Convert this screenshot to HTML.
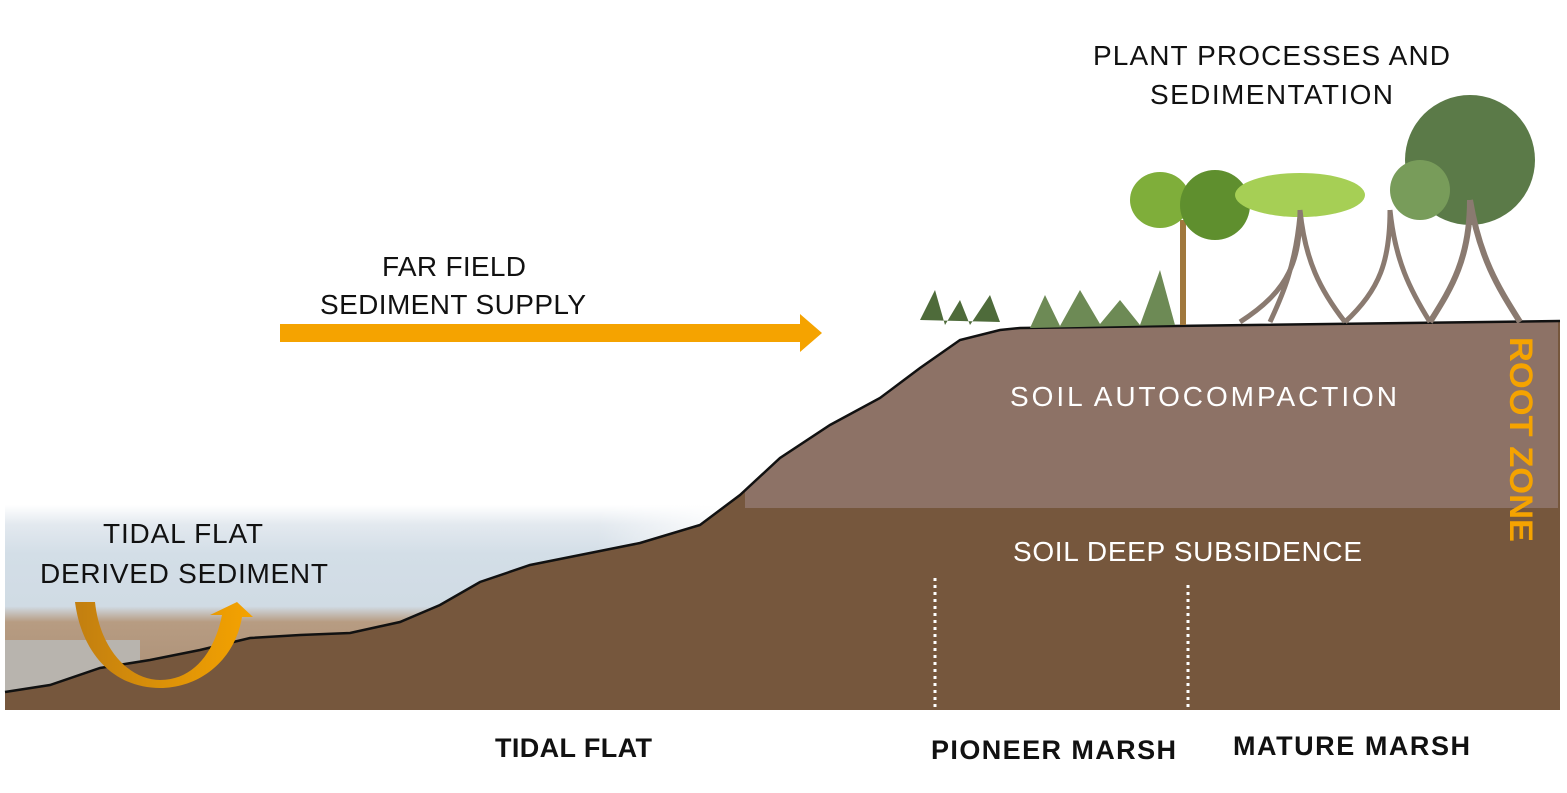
<!DOCTYPE html>
<html><head><meta charset="utf-8"><style>
body{margin:0;background:#fff;width:1567px;height:788px;overflow:hidden;font-family:"Liberation Sans",sans-serif}
</style></head><body>
<svg width="1567" height="788" viewBox="0 0 1567 788" xmlns="http://www.w3.org/2000/svg">
<defs>
<linearGradient id="water" x1="0" y1="0" x2="0" y2="1">
<stop offset="0" stop-color="#fff"/>
<stop offset="0.1" stop-color="#e3e9ef"/>
<stop offset="0.25" stop-color="#d3dee7"/>
<stop offset="0.52" stop-color="#d0dbe4"/>
<stop offset="0.6" stop-color="#b79c82"/>
<stop offset="1" stop-color="#a98d74"/>
</linearGradient>
<linearGradient id="wfade" x1="0" y1="0" x2="1" y2="0">
<stop offset="0" stop-color="#fff" stop-opacity="0"/>
<stop offset="0.8" stop-color="#fff" stop-opacity="0"/>
<stop offset="1" stop-color="#fff" stop-opacity="1"/>
</linearGradient>
<linearGradient id="arr" x1="0" y1="0" x2="1" y2="0">
<stop offset="0" stop-color="#c27f10"/><stop offset="1" stop-color="#f5a300"/>
</linearGradient>
</defs>
<rect x="5" y="505" width="740" height="195" fill="url(#water)"/>
<rect x="5" y="505" width="740" height="195" fill="url(#wfade)"/>
<!-- gravel -->
<path d="M5,640 L140,640 L140,700 L5,700 Z" fill="#b8b4ae"/>
<!-- ground -->
<path d="M5,692 L50,685 L100,668 L150,660 L200,650 L250,638 L300,635 L350,633 L400,622 L440,605 L480,582 L530,565 L580,555 L640,543 L700,525 L740,495 L780,458 L830,425 L880,398 L920,368 L960,340 L1000,330 L1020,328 L1560,321 L1560,710 L5,710 Z" fill="#76573d"/>
<!-- upper soil -->
<path d="M745,508 L745,490 L780,458 L830,425 L880,398 L920,368 L960,340 L1000,330 L1020,328 L1558,322 L1558,508 Z" fill="#8d7266"/>
<path d="M5,692 L50,685 L100,668 L150,660 L200,650 L250,638 L300,635 L350,633 L400,622 L440,605 L480,582 L530,565 L580,555 L640,543 L700,525 L740,495 L780,458 L830,425 L880,398 L920,368 L960,340 L1000,330 L1020,328 L1560,321" fill="none" stroke="#111" stroke-width="2.5"/>
<!-- dotted lines -->
<line x1="935" y1="578" x2="935" y2="710" stroke="#fff" stroke-width="3" stroke-dasharray="3,4"/>
<line x1="1188" y1="585" x2="1188" y2="710" stroke="#fff" stroke-width="3" stroke-dasharray="3,4"/>
<!-- far field arrow -->
<rect x="280" y="324" width="522" height="18" fill="#f5a300"/>
<polygon points="800,314 822,333 800,352" fill="#f5a300"/>
<!-- curved arrow -->
<path d="M75,602 L95,602 C100,650 130,680 160,680 C195,680 215,650 222,615 L210,615 L237,602 L253,617 L242,617 C235,660 200,688 160,688 C115,688 82,655 75,602 Z" fill="url(#arr)"/>
<!-- vegetation -->
<g>
<path d="M920,320 L935,290 L945,325 L960,300 L970,325 L990,295 L1000,322 Z" fill="#4e6b3a"/>
<path d="M1030,328 L1045,295 L1060,326 L1080,290 L1100,324 L1120,300 L1140,325 L1160,270 L1175,325 Z" fill="#6d8a55"/>
<rect x="1180" y="220" width="6" height="105" fill="#a0783d"/>
<ellipse cx="1160" cy="200" rx="30" ry="28" fill="#7fae3a"/>
<ellipse cx="1215" cy="205" rx="35" ry="35" fill="#5f8f2e"/>
<ellipse cx="1300" cy="195" rx="65" ry="22" fill="#a6cf55"/>
<path d="M1300,210 C1300,260 1290,290 1240,322 M1300,210 C1305,260 1320,290 1345,322 M1300,215 C1295,270 1280,300 1270,322" stroke="#8a7a70" stroke-width="5" fill="none"/>
<path d="M1390,210 C1390,260 1380,290 1345,322 M1390,210 C1395,260 1410,290 1430,322" stroke="#8a7a70" stroke-width="5" fill="none"/>
<ellipse cx="1470" cy="160" rx="65" ry="65" fill="#5b7a48"/>
<ellipse cx="1420" cy="190" rx="30" ry="30" fill="#789c5a"/>
<path d="M1470,200 C1470,260 1450,290 1430,322 M1470,200 C1480,260 1500,290 1520,322" stroke="#8a7a70" stroke-width="6" fill="none"/>
</g>
<!-- labels -->
<g font-family="Liberation Sans, sans-serif" fill="#111" font-size="28" lengthAdjust="spacingAndGlyphs">
<text x="1093" y="65" textLength="357">PLANT PROCESSES AND</text>
<text x="1150" y="104" textLength="243">SEDIMENTATION</text>
<text x="382" y="276" textLength="144">FAR FIELD</text>
<text x="320" y="314" textLength="266">SEDIMENT SUPPLY</text>
<text x="103" y="543" textLength="160">TIDAL FLAT</text>
<text x="40" y="583" textLength="288">DERIVED SEDIMENT</text>
</g>
<g font-family="Liberation Sans, sans-serif" fill="#fff" font-size="28">
<text x="1010" y="406" textLength="387">SOIL AUTOCOMPACTION</text>
<text x="1013" y="561" textLength="349">SOIL DEEP SUBSIDENCE</text>
</g>
<text transform="translate(1510,337) rotate(90)" font-family="Liberation Sans, sans-serif" font-weight="bold" font-size="32" fill="#f5a300" textLength="205" lengthAdjust="spacingAndGlyphs">ROOT ZONE</text>
<g font-family="Liberation Sans, sans-serif" font-weight="bold" fill="#111" font-size="27">
<text x="495" y="757" textLength="157">TIDAL FLAT</text>
<text x="931" y="759" textLength="245">PIONEER MARSH</text>
<text x="1233" y="755" textLength="237">MATURE MARSH</text>
</g>
</svg>
</body></html>
